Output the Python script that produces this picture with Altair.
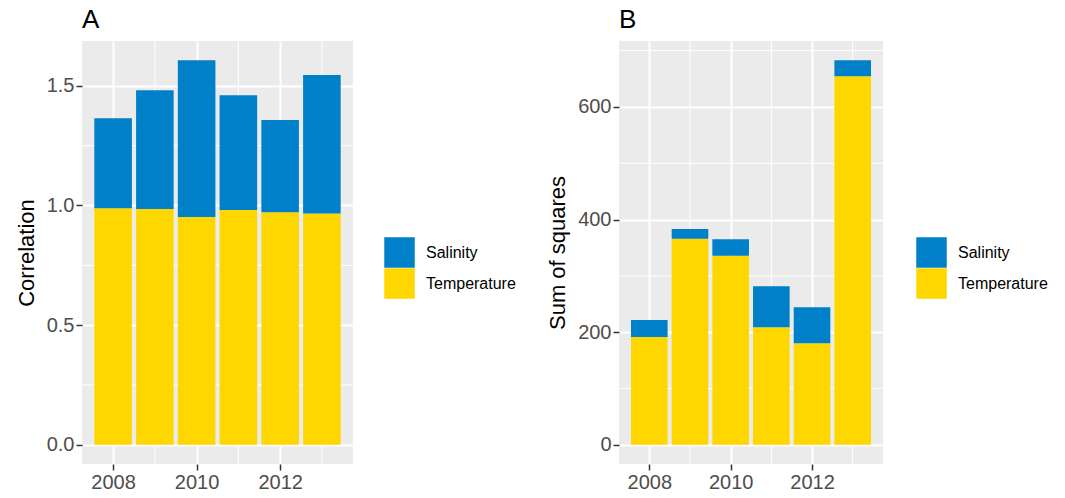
import altair as alt
import pandas as pd

# Yearly contributions of each variable
years = [2008, 2009, 2010, 2011, 2012, 2013]
corr_temperature = [0.989, 0.985, 0.952, 0.981, 0.972, 0.967]
corr_salinity = [0.376, 0.497, 0.655, 0.480, 0.385, 0.578]
ss_temperature = [191.2, 365.7, 335.6, 208.9, 180.5, 654.5]
ss_salinity = [30.2, 17.3, 29.6, 72.8, 63.9, 28.4]

variables = ["Salinity", "Temperature"]
palette = ["#0080C9", "#FFD700"]

x_major = [2008, 2010, 2012]
x_minor = [2009, 2011, 2013]

FONT = "Liberation Sans"


def long_table(temp, sal):
    rows = []
    for yr, t, s in zip(years, temp, sal):
        rows.append({"year": yr, "variable": "Temperature", "value": t, "stack_order": 0})
        rows.append({"year": yr, "variable": "Salinity", "value": s, "stack_order": 1})
    return pd.DataFrame(rows)


def panel(df, tag, ytitle, ydomain, ymajor, yminor, yformat, width, legend_gap):
    xscale = alt.Scale(domain=[2007.255, 2013.745], nice=False, zero=False)
    yscale = alt.Scale(domain=ydomain, nice=False, zero=False)

    minor_y = alt.Chart(pd.DataFrame({"v": yminor})).mark_rule(
        color="white", strokeWidth=1
    ).encode(y=alt.Y("v:Q", scale=yscale))
    minor_x = alt.Chart(pd.DataFrame({"v": x_minor})).mark_rule(
        color="white", strokeWidth=1
    ).encode(x=alt.X("v:Q", scale=xscale))

    bars = (
        alt.Chart(df)
        .transform_calculate(x0="datum.year - 0.45", x1="datum.year + 0.45")
        .transform_stack(
            stack="value",
            groupby=["year"],
            as_=["y0", "y1"],
            sort=[alt.SortField("stack_order", order="ascending")],
        )
        .mark_bar()
        .encode(
            x=alt.X(
                "x0:Q",
                scale=xscale,
                axis=alt.Axis(values=x_major, format="d", title=None),
            ),
            x2="x1:Q",
            y=alt.Y(
                "y0:Q",
                scale=yscale,
                axis=alt.Axis(values=ymajor, format=yformat, title=ytitle),
            ),
            y2="y1:Q",
            color=alt.Color(
                "variable:N",
                scale=alt.Scale(domain=variables, range=palette),
                legend=alt.Legend(
                    title=None,
                    orient="none",
                    legendX=width + legend_gap,
                    legendY=196,
                    symbolType="square",
                    symbolSize=930,
                    symbolStrokeWidth=0,
                    labelFontSize=16,
                    labelFont=FONT,
                    labelColor="black",
                    labelOffset=11,
                    rowPadding=0,
                ),
            ),
        )
    )

    return alt.layer(minor_y, minor_x, bars).properties(
        width=width,
        height=423,
        title=alt.TitleParams(
            tag,
            anchor="start",
            frame="group",
            fontSize=26,
            fontWeight="normal",
            font=FONT,
            color="black",
            offset=8,
        ),
    )


left = panel(
    long_table(corr_temperature, corr_salinity),
    "A", "Correlation", [-0.0804, 1.6875],
    [0.0, 0.5, 1.0, 1.5], [0.25, 0.75, 1.25], ".1f", 271, 31,
)
right = panel(
    long_table(ss_temperature, ss_salinity),
    "B", "Sum of squares", [-34.15, 717.1],
    [0, 200, 400, 600], [100, 300, 500, 700], "d", 264, 33,
)

chart = (
    alt.hconcat(left, right, spacing=30)
    .resolve_scale(color="independent", x="independent", y="independent")
    .resolve_legend(color="independent")
    .properties(padding={"left": 15, "top": 6, "right": 5, "bottom": 5})
    .configure_view(fill="#EBEBEB", strokeWidth=0)
    .configure_axis(
        domain=False,
        grid=True,
        gridColor="white",
        gridWidth=2,
        tickColor="#333333",
        tickSize=6,
        tickWidth=1.5,
        labelColor="#4D4D4D",
        labelFontSize=20,
        labelFont=FONT,
        labelPadding=2,
        titleFont=FONT,
        titleFontSize=22,
        titleFontWeight="normal",
        titleColor="black",
        titlePadding=8,
    )
)

chart.save("out.html", embed_options={"renderer": "svg", "actions": False})
